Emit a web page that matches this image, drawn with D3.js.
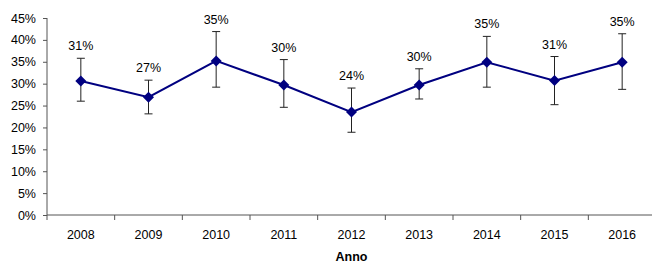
<!DOCTYPE html>
<html>
<head>
<meta charset="utf-8">
<script src="https://cdn.jsdelivr.net/npm/d3@7"></script>
<style>
  body { margin: 0; background: #fff; }
  text { font-family: "Liberation Sans", Arial, sans-serif; }
</style>
</head>
<body>
<div id="chart"></div>
<script>
const width = 652;
const height = 264;

// dati
const years = ["2008", "2009", "2010", "2011", "2012", "2013", "2014", "2015", "2016"];
const values = [0.306, 0.269, 0.352, 0.297, 0.235, 0.297, 0.349, 0.307, 0.349];
const upper = [0.358, 0.308, 0.419, 0.355, 0.290, 0.334, 0.408, 0.362, 0.414];
const lower = [0.260, 0.231, 0.292, 0.246, 0.189, 0.265, 0.292, 0.252, 0.287];
const yTicks = [0, 0.05, 0.1, 0.15, 0.2, 0.25, 0.3, 0.35, 0.4, 0.45];

const data = years.map((y, i) => ({ year: y, v: values[i], hi: upper[i], lo: lower[i] }));

const margin = { left: 47, top: 18, bottom: 215, right: 656 };

const svg = d3.select("#chart").append("svg")
  .attr("width", width)
  .attr("height", height);

const x = d3.scaleBand()
  .domain(years)
  .range([margin.left, margin.right])
  .padding(0);

const y = d3.scaleLinear()
  .domain([0, 0.45])
  .range([margin.bottom, margin.top]);

const fmt = d3.format(".0%");

// asse y
const yAxis = svg.append("g")
  .attr("transform", `translate(${margin.left},0)`)
  .call(d3.axisLeft(y).tickValues(yTicks).tickFormat(fmt).tickSize(4).tickPadding(7));
yAxis.select(".domain").attr("stroke", "#555").attr("d", `M0,${y(0)}V${y(0.45)}`);
yAxis.selectAll(".tick line").attr("stroke", "#555");
yAxis.selectAll("text").attr("font-size", 12.5).attr("fill", "#000");

// asse x
svg.append("line")
  .attr("x1", margin.left).attr("x2", width)
  .attr("y1", y(0)).attr("y2", y(0))
  .attr("stroke", "#555");

const bounds = years.map(d => x(d)).concat([x(years[years.length - 1]) + x.step()]);
svg.append("g").selectAll("line")
  .data(bounds)
  .enter().append("line")
  .attr("x1", d => d).attr("x2", d => d)
  .attr("y1", y(0)).attr("y2", y(0) + 5)
  .attr("stroke", "#555");

svg.append("g").selectAll("text")
  .data(years)
  .enter().append("text")
  .attr("x", d => x(d) + x.bandwidth() / 2)
  .attr("y", y(0) + 24)
  .attr("text-anchor", "middle")
  .attr("font-size", 12.5)
  .text(d => d);

svg.append("text")
  .attr("x", (margin.left + margin.right) / 2)
  .attr("y", 261)
  .attr("text-anchor", "middle")
  .attr("font-size", 12.5)
  .attr("font-weight", "bold")
  .text("Anno");

const cx = d => x(d.year) + x.bandwidth() / 2;

// barre di errore
const err = svg.append("g").attr("stroke", "#222").attr("stroke-width", 1);
err.selectAll(".v").data(data).enter().append("line")
  .attr("x1", cx).attr("x2", cx)
  .attr("y1", d => y(d.hi)).attr("y2", d => y(d.lo));
err.selectAll(".t").data(data).enter().append("line")
  .attr("x1", d => cx(d) - 4).attr("x2", d => cx(d) + 4)
  .attr("y1", d => y(d.hi)).attr("y2", d => y(d.hi));
err.selectAll(".b").data(data).enter().append("line")
  .attr("x1", d => cx(d) - 4).attr("x2", d => cx(d) + 4)
  .attr("y1", d => y(d.lo)).attr("y2", d => y(d.lo));

// linea
svg.append("path")
  .datum(data)
  .attr("fill", "none")
  .attr("stroke", "#000080")
  .attr("stroke-width", 2)
  .attr("d", d3.line().x(cx).y(d => y(d.v)));

// marcatori a rombo
svg.append("g").selectAll("path")
  .data(data)
  .enter().append("path")
  .attr("transform", d => `translate(${cx(d)},${y(d.v)})`)
  .attr("d", "M0,-5.5L5.5,0L0,5.5L-5.5,0Z")
  .attr("fill", "#000080");

// etichette
svg.append("g").selectAll("text")
  .data(data)
  .enter().append("text")
  .attr("x", cx)
  .attr("y", d => y(d.hi) - 8)
  .attr("text-anchor", "middle")
  .attr("font-size", 12.5)
  .text(d => fmt(d.v));
</script>
</body>
</html>
